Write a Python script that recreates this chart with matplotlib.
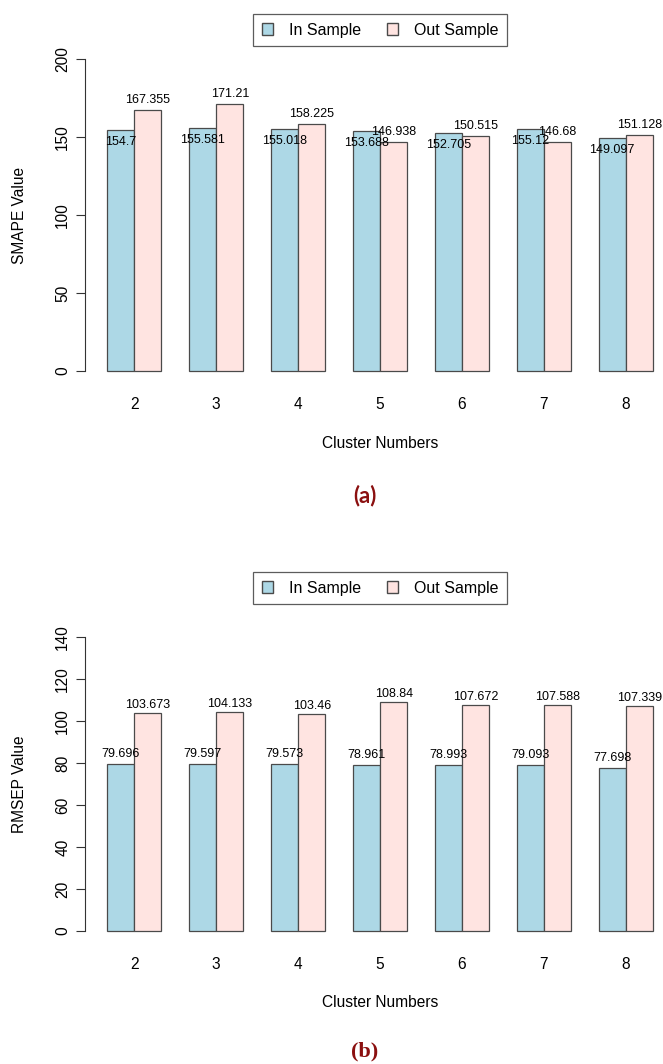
import numpy as np
import matplotlib
matplotlib.use("Agg")
import matplotlib.pyplot as plt
from matplotlib.patches import Patch

plt.rcParams['font.family'] = ['Liberation Sans', 'DejaVu Sans']

clusters = [2, 3, 4, 5, 6, 7, 8]
smape_in = [154.7, 155.581, 155.018, 153.688, 152.705, 155.12, 149.097]
smape_out = [167.355, 171.21, 158.225, 146.938, 150.515, 146.68, 151.128]
rmsep_in = [79.696, 79.597, 79.573, 78.961, 78.993, 79.093, 77.698]
rmsep_out = [103.673, 104.133, 103.46, 108.84, 107.672, 107.588, 107.339]

W, H = 663, 1064
fig = plt.figure(figsize=(W / 100, H / 100), dpi=100)

col_in = '#ADD8E6'
col_out = '#FFE4E1'
edge = '#4a4a4a'


def fig_box(x0, x1, ytop, ybot):
    # pixel box -> figure fraction [left, bottom, width, height]
    return [x0 / W, 1 - ybot / H, (x1 - x0) / W, (ybot - ytop) / H]


def panel(box, vin, vout, ymax, yticks, ylabel, off_in, off_out, legend_y, tag, tag_y, tag_font):
    ax = fig.add_axes(box)
    n = len(clusters)
    left = 1 + 3 * np.arange(n)
    ax.bar(left + 0.5, vin, width=1, color=col_in, edgecolor=edge, linewidth=0.9)
    ax.bar(left + 1.5, vout, width=1, color=col_out, edgecolor=edge, linewidth=0.9)
    for i in range(n):
        ax.annotate(str(vin[i]), (left[i] + 0.5, vin[i]), xytext=(0, off_in),
                    textcoords='offset pixels', ha='center', va='center', fontsize=9)
        ax.annotate(str(vout[i]), (left[i] + 1.5, vout[i]), xytext=(0, off_out),
                    textcoords='offset pixels', ha='center', va='center', fontsize=9)
    ax.set_xlim(0.2, 21.8)
    ax.set_ylim(-0.04 * ymax, 1.04 * ymax)
    for s in ['top', 'right', 'bottom']:
        ax.spines[s].set_visible(False)
    ax.spines['left'].set_bounds(0, ymax)
    ax.spines['left'].set_color('#333333')
    ax.set_yticks(yticks)
    ax.set_yticklabels([str(t) for t in yticks], rotation=90, va='center', fontsize=11.2)
    ax.tick_params(axis='y', length=6.2, width=0.8, color='#333333', pad=4.5)
    ax.set_xticks(left + 1)
    ax.set_xticklabels([str(c) for c in clusters], fontsize=11.2)
    ax.tick_params(axis='x', length=0, pad=10)
    ax.set_xlabel('Cluster Numbers', fontsize=11.2, labelpad=17)
    ax.set_ylabel(ylabel, fontsize=11.2)
    ax.yaxis.set_label_coords(-(85 - 27) / (box[2] * W), 0.5)

    handles = [Patch(facecolor=col_in, edgecolor=edge, label='In Sample'),
               Patch(facecolor=col_out, edgecolor=edge, label='Out Sample')]
    leg = fig.legend(handles=handles, loc='center', bbox_to_anchor=(380 / W, 1 - legend_y / H),
                     ncol=2, fontsize=11.5, frameon=True, fancybox=False, edgecolor='#333333',
                     handlelength=0.7, handleheight=0.7, handletextpad=1.0, columnspacing=1.6,
                     borderpad=0.55)
    leg.get_frame().set_linewidth(0.9)
    fig.text(365 / W, 1 - tag_y / H, tag, ha='center', va='center', fontsize=16,
             fontweight='bold', color='#8B1010', family=tag_font)
    return ax


panel(fig_box(85, 675, 46.5, 383.5), smape_in, smape_out, 200, [0, 50, 100, 150, 200],
      'SMAPE Value', -12, 10, 30, '(a)', 496, ['Lato', 'DejaVu Sans'])
panel(fig_box(85, 675, 625.2, 942.8), rmsep_in, rmsep_out, 140, [0, 20, 40, 60, 80, 100, 120, 140],
      'RMSEP Value', 10, 8, 588, '(b)', 1051, ['Liberation Serif', 'DejaVu Serif'])

fig.savefig('out.png', dpi=100)
